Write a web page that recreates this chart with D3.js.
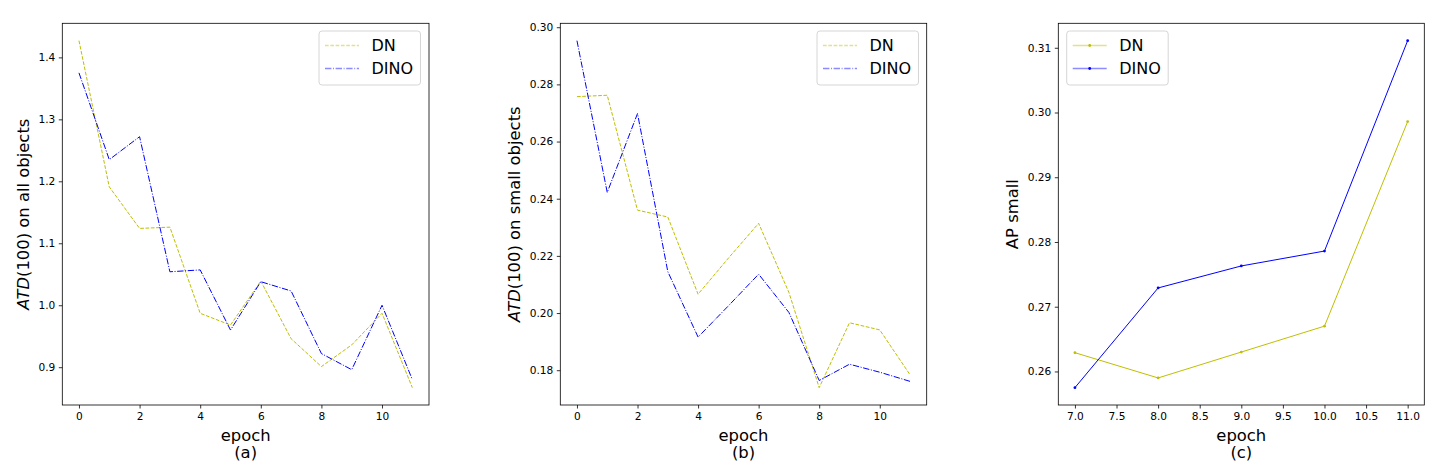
<!DOCTYPE html>
<html>
<head>
<meta charset="utf-8">
<script src="https://cdn.jsdelivr.net/npm/d3@7"></script>
<style>
  body { margin: 0; background: #fff; }
  text { font-family: "DejaVu Sans", sans-serif; fill: #000; }
</style>
</head>
<body>
<svg id="chart" width="1444" height="469"></svg>
<script>
// epochs
const epochsAll = [0, 1, 2, 3, 4, 5, 6, 7, 8, 9, 10, 11];
const epochsLate = [7, 8, 9, 10, 11];

// (a) ATD(100) on all objects
const atdAllDN   = [1.427, 1.191, 1.124, 1.126, 0.987, 0.968, 1.039, 0.946, 0.901, 0.936, 0.987, 0.867];
const atdAllDINO = [1.375, 1.235, 1.272, 1.054, 1.057, 0.960, 1.038, 1.023, 0.922, 0.896, 1.000, 0.880];

// (b) ATD(100) on small objects
const atdSmallDN   = [0.2757, 0.2762, 0.2360, 0.2336, 0.2066, 0.2192, 0.2314, 0.2072, 0.1739, 0.1966, 0.1941, 0.1784];
const atdSmallDINO = [0.2953, 0.2422, 0.2698, 0.2145, 0.1916, 0.2025, 0.2136, 0.2002, 0.1764, 0.1821, 0.1793, 0.1761];

// (c) AP small
const apSmallDN   = [0.2629, 0.2590, 0.2630, 0.2670, 0.2986];
const apSmallDINO = [0.2575, 0.2729, 0.2763, 0.2786, 0.3111];

// tick labels
const xTicksA = [0, 2, 4, 6, 8, 10];
const yTicksA = [0.9, 1.0, 1.1, 1.2, 1.3, 1.4];
const yTicksB = [0.18, 0.20, 0.22, 0.24, 0.26, 0.28, 0.30];
const xTicksC = [7.0, 7.5, 8.0, 8.5, 9.0, 9.5, 10.0, 10.5, 11.0];
const yTicksC = [0.26, 0.27, 0.28, 0.29, 0.30, 0.31];

const seriesNames = ["DN", "DINO"];
const colorDN = "#bfbf00", colorDINO = "#0000ff";

const svg = d3.select("#chart");
const plotTop = 23.3, plotBottom = 405;

// matplotlib-like 5% padding around data
function padded(vals) {
  const [lo, hi] = d3.extent(vals);
  const m = (hi - lo) * 0.05;
  return [lo - m, hi + m];
}

function drawPanel(cfg) {
  const g = svg.append("g");
  const x = d3.scaleLinear().domain(padded(cfg.xs)).range([cfg.left, cfg.right]);
  const y = d3.scaleLinear().domain(padded(cfg.dn.concat(cfg.dino))).range([plotBottom, plotTop]);

  const xAxis = d3.axisBottom(x).tickValues(cfg.xTicks).tickFormat(d3.format(cfg.xFmt))
    .tickSizeInner(3.5).tickSizeOuter(0).tickPadding(3.5);
  const yAxis = d3.axisLeft(y).tickValues(cfg.yTicks).tickFormat(d3.format(cfg.yFmt))
    .tickSizeInner(3.5).tickSizeOuter(0).tickPadding(3.5);

  g.append("g").attr("transform", `translate(0,${plotBottom})`).call(xAxis)
    .call(a => a.select(".domain").remove())
    .selectAll("text").attr("font-size", 10.6).attr("font-family", "DejaVu Sans");
  g.append("g").attr("transform", `translate(${cfg.left},0)`).call(yAxis)
    .call(a => a.select(".domain").remove())
    .selectAll("text").attr("font-size", 10.6).attr("font-family", "DejaVu Sans");
  g.selectAll(".tick line").attr("stroke", "#000").attr("stroke-width", 0.8);

  const line = d3.line().x((d, i) => x(cfg.xs[i])).y(d => y(d));
  const series = [
    { name: seriesNames[0], vals: cfg.dn, color: colorDN, dash: cfg.dashDN },
    { name: seriesNames[1], vals: cfg.dino, color: colorDINO, dash: cfg.dashDINO }
  ];

  series.forEach(s => {
    g.append("path").datum(s.vals).attr("d", line)
      .attr("fill", "none").attr("stroke", s.color).attr("stroke-width", 1)
      .attr("stroke-dasharray", s.dash);
    if (cfg.markers) {
      g.selectAll(null).data(s.vals).join("circle")
        .attr("cx", (d, i) => x(cfg.xs[i])).attr("cy", d => y(d))
        .attr("r", 1.4).attr("fill", s.color);
    }
  });

  // frame
  g.append("rect").attr("x", cfg.left).attr("y", plotTop)
    .attr("width", cfg.right - cfg.left).attr("height", plotBottom - plotTop)
    .attr("fill", "none").attr("stroke", "#000").attr("stroke-width", 0.8);

  // legend
  const lg = g.append("g").attr("transform", `translate(${cfg.legendX},31)`);
  lg.append("rect").attr("width", 101.5).attr("height", 54).attr("rx", 3)
    .attr("fill", "#fff").attr("fill-opacity", 0.8).attr("stroke", "#d6d6d6").attr("stroke-width", 1);
  series.forEach((s, i) => {
    const ly = 14.5 + i * 23;
    lg.append("line").attr("x1", 6).attr("x2", 40).attr("y1", ly).attr("y2", ly)
      .attr("stroke", s.color).attr("stroke-width", 1.6).attr("stroke-opacity", 0.45)
      .attr("stroke-dasharray", s.dash);
    if (cfg.markers) {
      lg.append("circle").attr("cx", 23).attr("cy", ly).attr("r", 1.4).attr("fill", s.color);
    }
    lg.append("text").attr("x", 52.5).attr("y", ly).attr("dy", "0.36em")
      .attr("font-size", 16).text(s.name);
  });

  // axis titles
  const cx = (cfg.left + cfg.right) / 2;
  g.append("text").attr("x", cx).attr("y", 440.5).attr("text-anchor", "middle")
    .attr("font-size", 16.4).text("epoch");
  g.append("text").attr("x", cx).attr("y", 458).attr("text-anchor", "middle")
    .attr("font-size", 16.4).text(cfg.caption);

  const yl = g.append("text").attr("text-anchor", "middle").attr("font-size", 16.4)
    .attr("transform", `translate(${cfg.ylabelX},${(plotTop + plotBottom) / 2}) rotate(-90)`);
  if (cfg.italic) {
    yl.append("tspan").attr("font-style", "italic").text(cfg.italic);
  }
  yl.append("tspan").text(cfg.ylabel);
}

drawPanel({
  left: 62.3, right: 429, xs: epochsAll, dn: atdAllDN, dino: atdAllDINO,
  xTicks: xTicksA, yTicks: yTicksA, xFmt: "d", yFmt: ".1f",
  dashDN: "3.7,1.6", dashDINO: "6.4,1.6,1,1.6", markers: false,
  legendX: 319, caption: "(a)", italic: "ATD", ylabel: "(100) on all objects", ylabelX: 29
});

drawPanel({
  left: 560.3, right: 926.7, xs: epochsAll, dn: atdSmallDN, dino: atdSmallDINO,
  xTicks: xTicksA, yTicks: yTicksB, xFmt: "d", yFmt: ".2f",
  dashDN: "3.7,1.6", dashDINO: "6.4,1.6,1,1.6", markers: false,
  legendX: 817, caption: "(b)", italic: "ATD", ylabel: "(100) on small objects", ylabelX: 520
});

drawPanel({
  left: 1058.3, right: 1424.3, xs: epochsLate, dn: apSmallDN, dino: apSmallDINO,
  xTicks: xTicksC, yTicks: yTicksC, xFmt: ".1f", yFmt: ".2f",
  dashDN: null, dashDINO: null, markers: true,
  legendX: 1066.7, caption: "(c)", italic: null, ylabel: "AP small", ylabelX: 1018
});
</script>
</body>
</html>
